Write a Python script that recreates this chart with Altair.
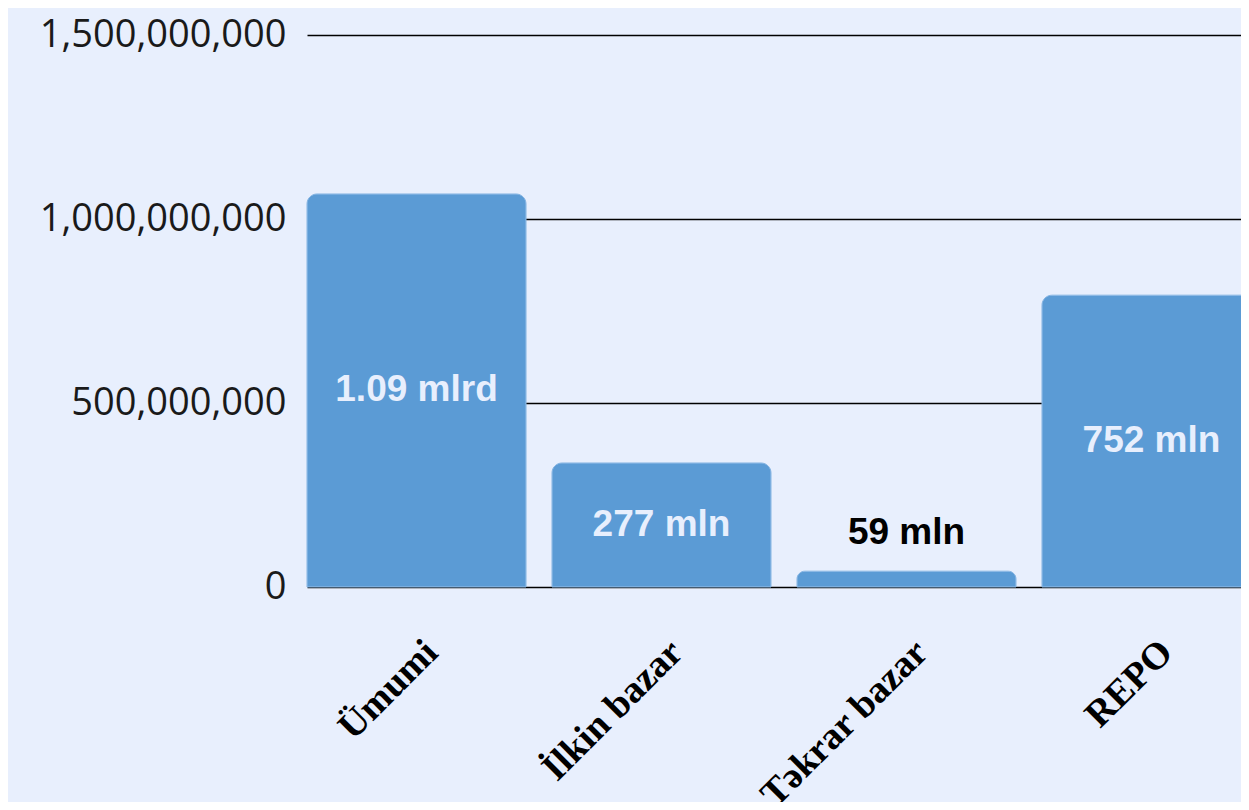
import altair as alt
import pandas as pd

categories = ["Ümumi", "İlkin bazar", "Təkrar bazar", "REPO"]
values = [1068000000, 337000000, 43000000, 793000000]
labels = ["1.09 mlrd", "277 mln", "59 mln", "752 mln"]
y_ticks = [0, 500000000, 1000000000, 1500000000]

df = pd.DataFrame({"cat": categories, "val": values, "lab": labels})

BG = "#e8effd"
BAR = "#5b9bd5"

x_scale = alt.Scale(paddingInner=0.106, paddingOuter=0, range=[0, 954])
y_scale = alt.Scale(domain=[0, 1500000000])

x_axis = alt.Axis(
    labelAngle=-45,
    labelFont="Liberation Serif",
    labelFontWeight="bold",
    labelFontSize=38,
    labelColor="#000000",
    labelPadding=46,
    labelOffset=2,
    labelLimit=0,
    ticks=False,
    domain=False,
    grid=False,
)
y_axis = alt.Axis(
    values=y_ticks,
    labelExpr="format(datum.value, ',.0f')",
    labelFont="Open Sans",
    labelFontSize=38,
    labelColor="#1a1a1a",
    labelPadding=21,
    labelLimit=0,
    ticks=False,
    domain=False,
    grid=True,
    gridColor="#000000",
    gridWidth=1.5,
    gridOpacity=1,
)

bars = alt.Chart(df).mark_bar(
    color=BAR,
    cornerRadiusTopLeft=10,
    cornerRadiusTopRight=10,
    stroke="#86b5e3",
    strokeWidth=1,
).encode(
    x=alt.X("cat:N", sort=categories, title=None, scale=x_scale, axis=x_axis),
    y=alt.Y("val:Q", title=None, scale=y_scale, axis=y_axis),
)

inside = alt.Chart(df).transform_filter(alt.datum.val >= 100000000).transform_calculate(
    val="datum.val / 2"
).mark_text(
    font="Liberation Sans", fontWeight="bold", fontSize=37, color="#e8effd", baseline="middle"
).encode(
    x=alt.X("cat:N", sort=categories, title=None, scale=x_scale, axis=x_axis),
    y=alt.Y("val:Q", title=None, scale=y_scale, axis=y_axis),
    text="lab:N",
)

outside = alt.Chart(df).transform_filter(alt.datum.val < 100000000).mark_text(
    font="Liberation Sans", fontWeight="bold", fontSize=37, color="#000000", baseline="middle", dy=-38
).encode(
    x=alt.X("cat:N", sort=categories, title=None, scale=x_scale, axis=x_axis),
    y=alt.Y("val:Q", title=None, scale=y_scale, axis=y_axis),
    text="lab:N",
)

chart = alt.layer(bars, inside, outside).properties(
    width=934,
    height=552,
    background=BG,
    autosize=alt.AutoSizeParams(type="none"),
    padding={"left": 299, "top": 27, "right": 0, "bottom": 215},
).configure_view(stroke=None)

chart.save("out.html", embed_options={"renderer": "svg", "actions": False})
